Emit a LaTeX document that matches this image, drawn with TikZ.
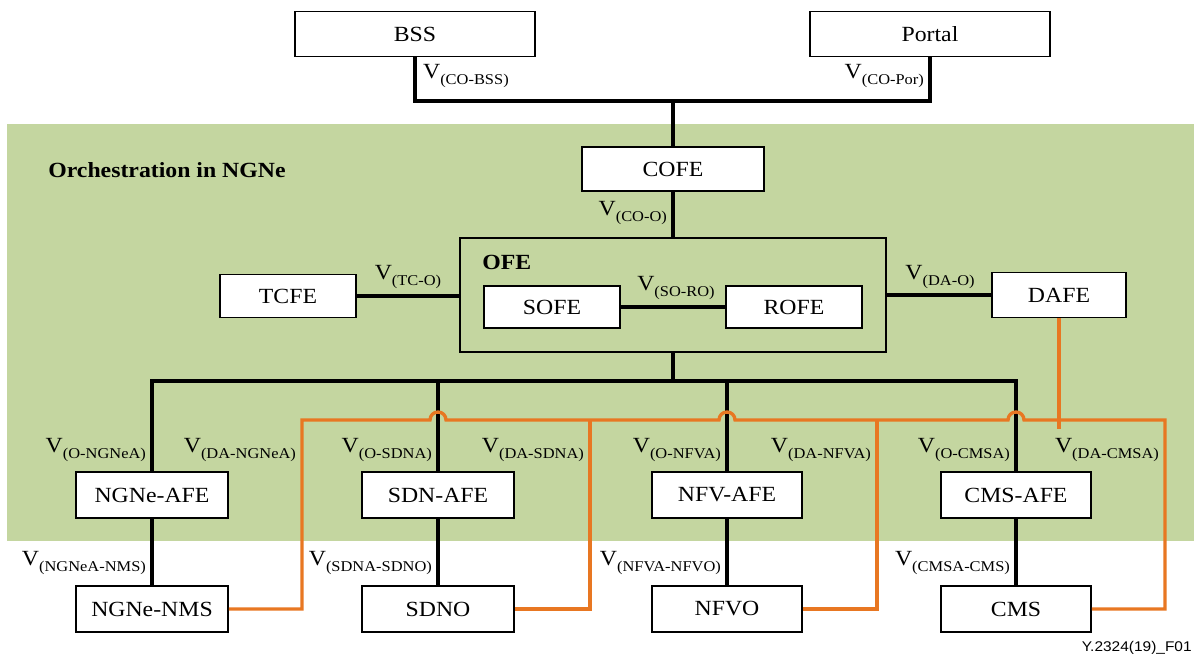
\documentclass[tikz,border=0pt]{standalone}
\usepackage{fontspec}
\setmainfont{Liberation Serif}[FakeStretch=1.1]
\newfontfamily\tagfont{Liberation Sans}[FakeStretch=1.1]
\usepackage{tikz}

\definecolor{ngnegreen}{RGB}{196,214,160}
\definecolor{daorange}{RGB}{232,119,34}

% V with a lowered subscript
\newcommand{\vref}[1]{V\raisebox{-3.5pt}{\fontsize{8.5}{9}\selectfont #1}}

\begin{document}
\begin{tikzpicture}[x=0.02cm, y=-0.02cm,
    fe/.style={draw, fill=white, line width=0.9pt, inner sep=0pt, minimum height=0.9cm, font=\fontsize{12.3}{14}\selectfont},
    ref/.style={inner sep=1pt, font=\fontsize{12.3}{14}\selectfont},
    bline/.style={line width=1.9pt},
    oline/.style={daorange, line width=1.9pt}]
    \useasboundingbox (0,0) rectangle (1194,658);
    \fill[ngnegreen] (7,124) rectangle (1194,541);
    \node[anchor=west, inner sep=0pt, font=\fontsize{12.3}{14}\selectfont\bfseries] (title) at (48,170) {Orchestration in NGNe};

    % top and orchestration boxes
    \node[fe, minimum width=4.8cm] (bss) at (415,34) {BSS};
    \node[fe, minimum width=4.8cm] (portal) at (930,34) {Portal};
    \node[fe, minimum width=3.64cm, minimum height=0.88cm] (cofe) at (673,169) {COFE};
    \node[draw, line width=0.9pt, minimum width=8.52cm, minimum height=2.28cm] (ofe) at (673,295) {};
    \node[anchor=west, inner sep=0pt, font=\fontsize{12.3}{14}\selectfont\bfseries] (ofelabel) at (482,262) {OFE};
    \node[fe, minimum width=2.72cm, minimum height=0.84cm] (sofe) at (552,307) {SOFE};
    \node[fe, minimum width=2.72cm, minimum height=0.84cm] (rofe) at (794,307) {ROFE};
    \node[fe, minimum width=2.72cm, minimum height=0.86cm] (tcfe) at (288,296) {TCFE};
    \node[fe, minimum width=2.68cm, minimum height=0.9cm] (dafe) at (1059,295) {DAFE};

    % adaptation and managed layers
    \node[fe, minimum width=3.04cm, minimum height=0.92cm] (ngneafe) at (152,495) {NGNe-AFE};
    \node[fe, minimum width=3.04cm, minimum height=0.92cm] (sdnafe) at (438,495) {SDN-AFE};
    \node[fe, minimum width=3.0cm, minimum height=0.92cm] (nfvafe) at (727,495) {NFV-AFE};
    \node[fe, minimum width=3.0cm, minimum height=0.92cm] (cmsafe) at (1016,495) {CMS-AFE};
    \node[fe, minimum width=3.04cm, minimum height=0.92cm] (ngnenms) at (152,609) {NGNe-NMS};
    \node[fe, minimum width=3.04cm, minimum height=0.92cm] (sdno) at (438,609) {SDNO};
    \node[fe, minimum width=3.0cm, minimum height=0.92cm] (nfvo) at (727,609) {NFVO};
    \node[fe, minimum width=3.0cm, minimum height=0.92cm] (cms) at (1016,609) {CMS};

    % black reference points
    \coordinate (topbus) at (673,101);
    \coordinate (afebus) at (673,381);
    \draw[bline] (bss.south) |- (topbus) -| (portal.south);
    \draw[bline] (topbus) -- (cofe.north);
    \draw[bline] (cofe.south) -- (ofe.north);
    \draw[bline] (tcfe.east) -- (tcfe.east -| ofe.west);
    \draw[bline] (dafe.west -| ofe.east) -- (dafe.west);
    \draw[bline] (sofe) -- (rofe);
    \draw[bline] (ofe.south) -- (afebus);
    \draw[bline] (ngneafe.north) |- (afebus) -| (cmsafe.north);
    \draw[bline] (sdnafe.north) -- (sdnafe.north |- afebus);
    \draw[bline] (nfvafe.north) -- (nfvafe.north |- afebus);
    \draw[bline] (ngneafe) -- (ngnenms);
    \draw[bline] (sdnafe) -- (sdno);
    \draw[bline] (nfvafe) -- (nfvo);
    \draw[bline] (cmsafe) -- (cms);

    % orange DA reference points
    \coordinate (daleft) at (302,420);
    \coordinate (daright) at (1165,420);
    \coordinate (sdnotap) at (590,420);
    \coordinate (nfvotap) at (877,420);
    \draw[oline] (ngnenms.east) -| (daleft) -- (430,420)
        arc[start angle=180, end angle=360, radius=8] -- (719,420)
        arc[start angle=180, end angle=360, radius=8] -- (1008,420)
        arc[start angle=180, end angle=360, radius=8] -- (daright) |- (cms.east);
    \draw[oline] (sdnotap) |- (sdno.east);
    \draw[oline] (nfvotap) |- (nfvo.east);
    \draw[oline] (dafe.south) -- ++(0,111);

    % labels
    \node[ref, anchor=west] at (421,76) {\vref{(CO-BSS)}};
    \node[ref, anchor=east] at (926,76) {\vref{(CO-Por)}};
    \node[ref, anchor=east] at (669,213) {\vref{(CO-O)}};
    \node[ref, anchor=south] at (408,291) {\vref{(TC-O)}};
    \node[ref, anchor=south] at (940,291) {\vref{(DA-O)}};
    \node[ref, anchor=south] at (676,302) {\vref{(SO-RO)}};
    \node[ref, anchor=east] at (148,450) {\vref{(O-NGNeA)}};
    \node[ref, anchor=east] at (298,450) {\vref{(DA-NGNeA)}};
    \node[ref, anchor=east] at (434,450) {\vref{(O-SDNA)}};
    \node[ref, anchor=east] at (586,450) {\vref{(DA-SDNA)}};
    \node[ref, anchor=east] at (723,450) {\vref{(O-NFVA)}};
    \node[ref, anchor=east] at (873,450) {\vref{(DA-NFVA)}};
    \node[ref, anchor=east] at (1012,450) {\vref{(O-CMSA)}};
    \node[ref, anchor=east] at (1161,450) {\vref{(DA-CMSA)}};
    \node[ref, anchor=east] at (148,563) {\vref{(NGNeA-NMS)}};
    \node[ref, anchor=east] at (434,563) {\vref{(SDNA-SDNO)}};
    \node[ref, anchor=east] at (723,563) {\vref{(NFVA-NFVO)}};
    \node[ref, anchor=east] at (1012,563) {\vref{(CMSA-CMS)}};
    \node[anchor=south east, inner sep=0pt, font=\tagfont\fontsize{8}{9}\selectfont] (figtag) at (1192,655) {Y.2324(19)\_F01};
\end{tikzpicture}
\end{document}
